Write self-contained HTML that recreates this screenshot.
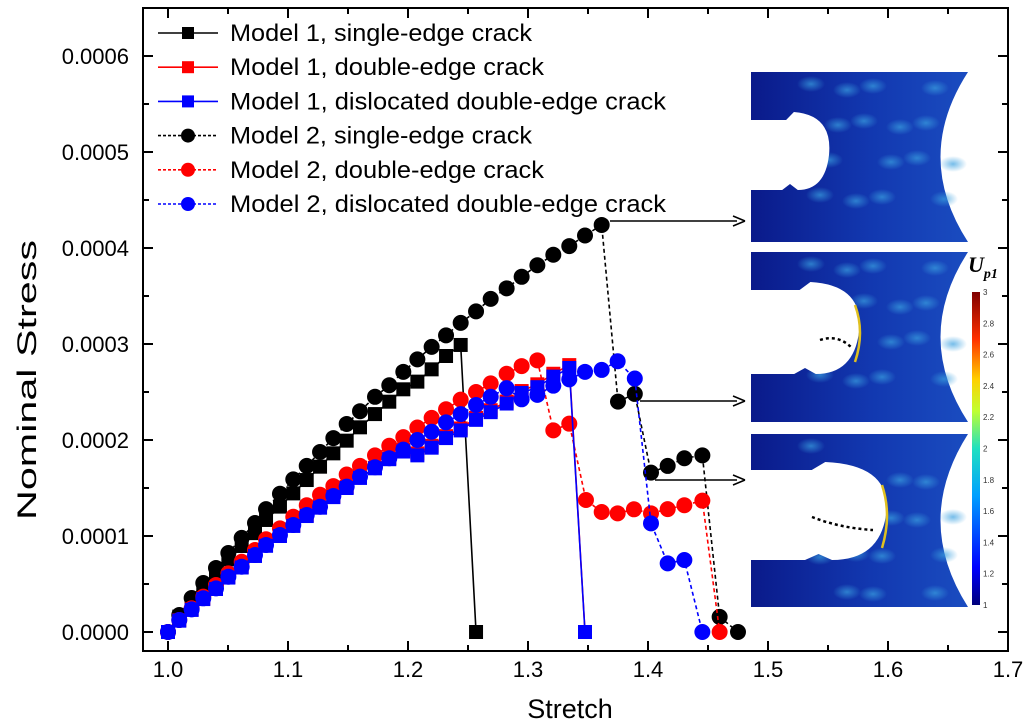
<!DOCTYPE html>
<html><head><meta charset="utf-8">
<style>
body{margin:0;background:#fff;}
svg{display:block;font-family:"Liberation Sans","DejaVu Sans",sans-serif;}
</style></head>
<body>
<svg id="chart" width="1030" height="722" viewBox="0 0 1030 722" xmlns="http://www.w3.org/2000/svg">
<defs>
<linearGradient id="cbar" x1="0" y1="1" x2="0" y2="0">
<stop offset="0" stop-color="#00007a"/><stop offset="0.12" stop-color="#0000ff"/>
<stop offset="0.35" stop-color="#00a0ff"/><stop offset="0.5" stop-color="#20e0c0"/>
<stop offset="0.62" stop-color="#c0ff30"/><stop offset="0.72" stop-color="#ffd000"/>
<stop offset="0.85" stop-color="#ff3000"/><stop offset="1" stop-color="#800000"/>
</linearGradient>
<radialGradient id="blob"><stop offset="0" stop-color="#3aa0e0" stop-opacity="0.7"/><stop offset="1" stop-color="#3aa0e0" stop-opacity="0"/></radialGradient>
<linearGradient id="panelg" x1="0" y1="0" x2="1" y2="0">
<stop offset="0" stop-color="#0a1a8a"/><stop offset="0.55" stop-color="#1238b0"/><stop offset="1" stop-color="#1a4cc0"/>
</linearGradient>
</defs>
<g id="insets"></g>
<g id="plot"></g>
</svg>
<script>
// ---- data ----
const m2SingleX=[1.0,1.0094,1.0197,1.0294,1.04,1.0503,1.0614,1.0725,1.0817,1.0933,1.1044,1.1156,1.1267,1.1378,1.1489,1.16,1.1725,1.1844,1.1961,1.2078,1.2197,1.2317,1.2439,1.2567,1.2689,1.2822,1.2947,1.3078,1.3211,1.3344,1.3475,1.3614,1.375,1.389,1.4025,1.4164,1.4303,1.4453,1.4597,1.475];
const m2SingleY=[0,0.0000177,0.0000354,0.000051,0.0000667,0.0000823,0.000098,0.0001135,0.000128,0.000144,0.000159,0.000173,0.0001875,0.000202,0.0002167,0.00023,0.000245,0.000257,0.000271,0.000284,0.000297,0.000309,0.000322,0.000334,0.000347,0.000358,0.00037,0.000382,0.000393,0.000402,0.000413,0.000424,0.00024,0.000248,0.000166,0.000173,0.000181,0.000184,0.0000157,0];
const m1SingleX=[1.0,1.0094,1.0197,1.0294,1.04,1.0503,1.0614,1.0725,1.0817,1.0933,1.1044,1.1156,1.1267,1.1378,1.1489,1.16,1.1725,1.1844,1.1961,1.2078,1.2197,1.2317,1.2439,1.2567];
const m1SingleY=[0,0.000016,0.0000316,0.0000472,0.0000618,0.0000757,0.0000896,0.000103,0.0001167,0.0001306,0.0001444,0.0001583,0.0001722,0.0001861,0.0001993,0.0002132,0.000227,0.0002399,0.0002528,0.0002608,0.0002736,0.0002875,0.000299,0];
const m2DoubleX=[1.0,1.0094,1.0197,1.0294,1.04,1.0503,1.0614,1.0725,1.0817,1.0933,1.1044,1.1156,1.1267,1.1378,1.1489,1.16,1.1725,1.1844,1.1961,1.2078,1.2197,1.2317,1.2439,1.2567,1.2689,1.2822,1.2947,1.3078,1.3211,1.3344,1.3483,1.3614,1.3747,1.3883,1.4025,1.4164,1.4303,1.4453,1.4597];
const m2DoubleY=[0,0.0000125,0.0000247,0.0000368,0.000049,0.0000611,0.0000732,0.0000854,0.0000966,0.000108,0.00012,0.000132,0.000143,0.000152,0.000164,0.000173,0.000184,0.000194,0.000203,0.000213,0.000223,0.000232,0.000242,0.00025,0.000259,0.000269,0.000277,0.000283,0.00021,0.000217,0.0001375,0.000125,0.0001236,0.0001278,0.0001236,0.000128,0.000132,0.0001368,0];
const m2DislX=[1.0,1.0094,1.0197,1.0294,1.04,1.0503,1.0614,1.0725,1.0817,1.0933,1.1044,1.1156,1.1267,1.1378,1.1489,1.16,1.1725,1.1844,1.1961,1.2078,1.2197,1.2317,1.2439,1.2567,1.2689,1.2822,1.2947,1.3078,1.3211,1.3344,1.3475,1.3614,1.3747,1.389,1.4025,1.4164,1.4303,1.4453];
const m2DislY=[0,0.0000125,0.0000236,0.0000351,0.0000455,0.0000576,0.000068,0.0000802,0.0000906,0.000101,0.0001115,0.0001219,0.0001305,0.0001417,0.0001514,0.0001618,0.0001716,0.000181,0.00019,0.0002,0.0002086,0.0002184,0.000227,0.0002365,0.000245,0.000254,0.0002424,0.000247,0.0002566,0.0002632,0.000271,0.000273,0.000282,0.000264,0.0001132,0.0000715,0.000075,0];
const m1DislX=[1.0,1.0094,1.0197,1.0294,1.04,1.0503,1.0614,1.0725,1.0817,1.0933,1.1044,1.1156,1.1267,1.1378,1.1489,1.16,1.1725,1.1844,1.1961,1.2078,1.2197,1.2317,1.2439,1.2567,1.2689,1.2822,1.2947,1.3078,1.3211,1.3344,1.3475];
const m1DislY=[0,0.0000118,0.000023,0.0000343,0.0000448,0.0000567,0.0000672,0.0000792,0.0000898,0.0001,0.0001105,0.0001208,0.0001295,0.0001405,0.00015,0.0001605,0.0001705,0.00018,0.000188,0.000184,0.000192,0.000202,0.00021,0.000221,0.000229,0.000238,0.000249,0.000255,0.000266,0.000275,0];
const m1DoubleX=[1.0,1.0094,1.0197,1.0294,1.04,1.0503,1.0614,1.0725,1.0817,1.0933,1.1044,1.1156,1.1267,1.1378,1.1489,1.16,1.1725,1.1844,1.1961,1.2078,1.2197,1.2317,1.2439,1.2567,1.2689,1.2822,1.2947,1.3078,1.3211,1.3344,1.3475];
const m1DoubleY=[0,0.0000122,0.0000236,0.0000348,0.0000455,0.0000575,0.000068,0.00008,0.0000905,0.000101,0.000111,0.0001215,0.00013,0.000141,0.000151,0.000161,0.000171,0.000181,0.00019,0.000186,0.000194,0.000204,0.000212,0.000223,0.000231,0.00024,0.000251,0.000258,0.000269,0.000278,0];
const xTicks=[1.0,1.1,1.2,1.3,1.4,1.5,1.6,1.7];
const yTicks=[0,0.0001,0.0002,0.0003,0.0004,0.0005,0.0006];
const yTickLabels=["0.0000","0.0001","0.0002","0.0003","0.0004","0.0005","0.0006"];
const cbarTicks=[1,1.2,1.4,1.6,1.8,2,2.2,2.4,2.6,2.8,3];

const NS="http://www.w3.org/2000/svg";
const L=143,R=1008,T=8,B=651;
const sx=v=>168+(v-1.0)*1200;
const sy=v=>632-v*960000;
const plot=document.getElementById('plot');
function mk(tag,attrs,parent){const e=document.createElementNS(NS,tag);for(const k in attrs)e.setAttribute(k,attrs[k]);(parent||plot).appendChild(e);return e;}

// ---- insets ----
const ins=document.getElementById('insets');
const panels=[{y:72,h:170,n0:48,n1:118,depth:78},{y:252,h:170,n0:38,n1:122,depth:108},{y:434,h:173,n0:36,n1:126,depth:135}];
panels.forEach((p,i)=>{
  const g=mk('g',{},ins);
  
  
  const x0=751,x1=968,y0=p.y,y1=p.y+p.h;
  mk('path',{d:`M${x0},${y0} L${x1},${y0} Q${x1-55},${(y0+y1)/2} ${x1},${y1} L${x0},${y1} Z`,fill:'url(#panelg)'},g);
  for(let k=0;k<16;k++){const bx=x0+60+((k*53)%150),by=y0+12+((k*37)%(p.h-24));mk('ellipse',{cx:bx,cy:by,rx:14,ry:8,fill:'url(#blob)'},g);}
  const a=y0+p.n0,b=y0+p.n1,m=(a+b)/2,d=p.depth;
  mk('path',{d:`M${x0-1},${a} L${x0+d*0.45},${a} L${x0+d*0.55},${a-8} Q${x0+d*1.05},${a-5} ${x0+d},${m} Q${x0+d*0.95},${b} ${x0+d*0.6},${b} L${x0+d*0.5},${b-6} L${x0+d*0.4},${b} L${x0-1},${b} Z`,fill:'#fff'},g);
  if(i>0) mk('path',{d:`M${x0+d-4},${a+15} Q${x0+d+6},${m} ${x0+d-4},${b-12}`,fill:'none',stroke:'#e0c020','stroke-width':2.5},g);
});
mk('path',{d:'M820,340 Q838,334 852,348',fill:'none',stroke:'#000','stroke-width':2.5,'stroke-dasharray':'3,3'},ins);
mk('path',{d:'M812,517 Q840,528 873,530',fill:'none',stroke:'#000','stroke-width':2.5,'stroke-dasharray':'3,3'},ins);
mk('rect',{x:972,y:292,width:8,height:313,fill:'url(#cbar)'},ins);
cbarTicks.forEach(v=>{const t=mk('text',{x:983,y:605-(v-1)/2*313+3,'font-size':8,fill:'#333'},ins);t.textContent=v;});
const up=mk('text',{x:968,y:272,'font-size':22,'font-family':'Liberation Serif,serif','font-style':'italic','font-weight':'bold'},ins);


up.innerHTML='U<tspan font-size="14" dy="6">p1</tspan>';

// ---- axes frame ----
const frame=mk('rect',{x:L,y:T,width:R-L,height:B-T,fill:'none',stroke:'#000','stroke-width':2});


for(let v=1.0;v<=1.7001;v+=0.05){const x=sx(v);const big=Math.abs(v*10-Math.round(v*10))<0.01;const len=big?10:6;
  mk('line',{x1:x,y1:B,x2:x,y2:B-len,stroke:'#000','stroke-width':2});mk('line',{x1:x,y1:T,x2:x,y2:T+len,stroke:'#000','stroke-width':2});}
for(let v=0;v<=0.00065001;v+=0.00005){const y=sy(v);const big=Math.round(v*20000)%2===0;const len=big?10:6;
  mk('line',{x1:L,y1:y,x2:L+len,y2:y,stroke:'#000','stroke-width':2});mk('line',{x1:R,y1:y,x2:R-len,y2:y,stroke:'#000','stroke-width':2});}
xTicks.forEach(v=>{const t=mk('text',{x:sx(v),y:677,'font-size':22,'text-anchor':'middle'});
  
  
  t.textContent=v.toFixed(1);});
yTicks.forEach((v,i)=>{const t=mk('text',{x:129,y:sy(v)+8,'font-size':22,'text-anchor':'end'});
  
  
  t.textContent=yTickLabels[i];});
const xt=mk('text',{x:570,y:718,'font-size':27,'text-anchor':'middle'});


xt.textContent='Stretch';
const yt=mk('text',{x:0,y:0,'font-size':27,'text-anchor':'middle',textLength:280,lengthAdjust:'spacingAndGlyphs',transform:'translate(36,380) rotate(-90)'});


yt.textContent='Nominal Stress';

// ---- annotation arrows ----
[[610,221,745,221],[640,401,745,401],[655,480,745,480]].forEach(a=>{
  const g=mk('g',{});
  
  
  mk('line',{x1:a[0],y1:a[1],x2:a[2]-8,y2:a[3],stroke:'#000','stroke-width':1.5},g);
  mk('path',{d:`M${a[2]},${a[3]} L${a[2]-12},${a[3]-5} M${a[2]},${a[3]} L${a[2]-12},${a[3]+5}`,stroke:'#000','stroke-width':1.5,fill:'none'},g);
});

// ---- series ----
function series(xs,ys,color,dashed,marker,name){
  const g=mk('g',{});
  
  
  const pts=xs.map((x,i)=>sx(x)+','+sy(ys[i])).join(' ');
  mk('polyline',{points:pts,fill:'none',stroke:color,'stroke-width':1.6,'stroke-dasharray':dashed?'4,3':'none'},g);
  xs.forEach((x,i)=>{
    let m;
    if(marker==='sq') m=mk('rect',{x:sx(x)-7,y:sy(ys[i])-7,width:14,height:14,fill:color},g);
    else m=mk('circle',{cx:sx(x),cy:sy(ys[i]),r:8,fill:color},g);
    
    
  });
}
series(m2SingleX,m2SingleY,'#000',true,'c','model2-single-edge');
series(m1SingleX,m1SingleY,'#000',false,'sq','model1-single-edge');
series(m2DoubleX,m2DoubleY,'#ff0000',true,'c','model2-double-edge');
series(m1DoubleX,m1DoubleY,'#ff0000',false,'sq','model1-double-edge');
series(m1DislX,m1DislY,'#0000ff',false,'sq','model1-dislocated');
series(m2DislX,m2DislY,'#0000ff',true,'c','model2-dislocated');

// ---- legend ----
const leg=[['Model 1, single-edge crack','#000',false,'sq',302],['Model 1, double-edge crack','#ff0000',false,'sq',314],['Model 1, dislocated double-edge crack','#0000ff',false,'sq',436],['Model 2, single-edge crack','#000',true,'c',302],['Model 2, double-edge crack','#ff0000',true,'c',314],['Model 2, dislocated double-edge crack','#0000ff',true,'c',436]];
const lg=mk('g',{});


leg.forEach((e,i)=>{
  const y=33+i*34.2;
  const g=mk('g',{},lg);
  
  
  mk('line',{x1:158,y1:y,x2:218,y2:y,stroke:e[1],'stroke-width':1.6,'stroke-dasharray':e[2]?'3,2':'none'},g);
  if(e[3]==='sq') mk('rect',{x:182,y:y-6,width:12,height:12,fill:e[1]},g);
  else mk('circle',{cx:188,cy:y,r:7,fill:e[1]},g);
  const t=mk('text',{x:230,y:y+8,'font-size':24,textLength:e[4],lengthAdjust:'spacingAndGlyphs'},g);
  t.textContent=e[0];
});
</script>
</body></html>
